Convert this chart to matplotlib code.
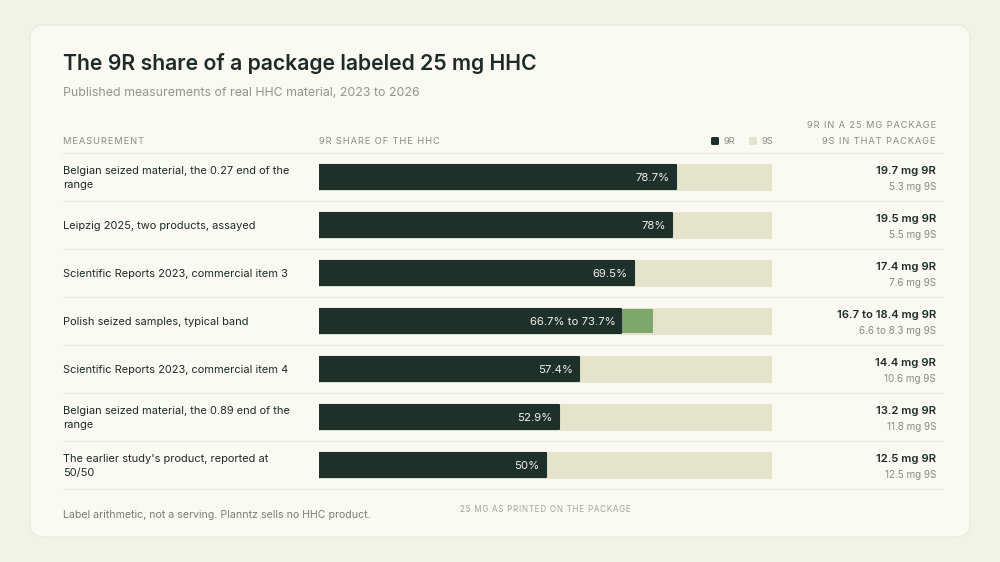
import matplotlib as mpl
mpl.use('Agg')

import matplotlib.pyplot as plt
import matplotlib.patches as patches
from matplotlib.transforms import blended_transform_factory

# data
labels = [
    "Belgian seized material, the 0.27 end of the\nrange",
    "Leipzig 2025, two products, assayed",
    "Scientific Reports 2023, commercial item 3",
    "Polish seized samples, typical band",
    "Scientific Reports 2023, commercial item 4",
    "Belgian seized material, the 0.89 end of the\nrange",
    "The earlier study's product, reported at\n50/50",
]
share_low = [78.7, 78.0, 69.5, 66.7, 57.4, 52.9, 50.0]
share_high = [78.7, 78.0, 69.5, 73.7, 57.4, 52.9, 50.0]
bar_text = ["78.7%", "78%", "69.5%", "66.7% to 73.7%", "57.4%", "52.9%", "50%"]
mg_9r = ["19.7 mg 9R", "19.5 mg 9R", "17.4 mg 9R", "16.7 to 18.4 mg 9R",
         "14.4 mg 9R", "13.2 mg 9R", "12.5 mg 9R"]
mg_9s = ["5.3 mg 9S", "5.5 mg 9S", "7.6 mg 9S", "6.6 to 8.3 mg 9S",
         "10.6 mg 9S", "11.8 mg 9S", "12.5 mg 9S"]

PAGE = '#f3f2e7'
CARD = '#fafaf3'
DARK = '#1e302b'
LIGHT = '#e5e3cc'
GREEN = '#7ea86b'
INK = '#1f2b28'
GREY = '#8b8b82'
RULE = '#ebeadf'

FONT = ['Inter', 'DejaVu Sans']
plt.rcParams['font.family'] = FONT


def tracked(s):
    # fake letter spacing with hair spaces
    return '\u200a'.join(s)


fig = plt.figure(figsize=(10, 5.62), dpi=100, facecolor=PAGE)

# overlay axes in pixel coordinates
ax0 = fig.add_axes([0, 0, 1, 1])
ax0.set_xlim(0, 1000)
ax0.set_ylim(562, 0)
ax0.set_axis_off()

ax0.add_patch(patches.FancyBboxPatch((30, 25), 940, 512,
                                     boxstyle='round,pad=0,rounding_size=14',
                                     facecolor=CARD, edgecolor='#ecebdd', lw=1))

ax0.text(63, 64, "The 9R share of a package labeled 25 mg HHC", fontsize=15.3,
         fontweight='semibold', color=INK, va='center')
ax0.text(63, 93, "Published measurements of real HHC material, 2023 to 2026",
         fontsize=8.9, color='#95958c', va='center')

hdr = dict(fontsize=6.7, color=GREY, va='center', family=FONT)
ax0.text(63, 141, tracked("MEASUREMENT"), **hdr)
ax0.text(319, 141, tracked("9R SHARE OF THE HHC"), **hdr)
ax0.text(936, 125, tracked("9R IN A 25 MG PACKAGE"), ha='right', **hdr)
ax0.text(936, 141, tracked("9S IN THAT PACKAGE"), ha='right', **hdr)

# legend
ax0.add_patch(patches.FancyBboxPatch((711, 137), 8, 8, boxstyle='round,pad=0,rounding_size=1.5',
                                     facecolor=DARK, edgecolor='none'))
ax0.text(723, 141, "9R", **hdr)
ax0.add_patch(patches.FancyBboxPatch((749, 137), 8, 8, boxstyle='round,pad=0,rounding_size=1.5',
                                     facecolor=LIGHT, edgecolor='none'))
ax0.text(761, 141, "9S", **hdr)

ax0.plot([63, 943], [153, 153], color=RULE, lw=1)

ax0.text(63, 515, "Label arithmetic, not a serving. Planntz sells no HHC product.",
         fontsize=7.6, color='#7d7d75', va='center')

# bar axes: x in percent, y in rows
ax = fig.add_axes([319 / 1000, 1 - 489 / 562, 453 / 1000, 336 / 562])
ax.set_xlim(0, 100)
ax.set_ylim(len(labels) - 0.5, -0.5)
ax.set_axis_off()
ax.patch.set_alpha(0)

rows = list(range(len(labels)))
ax.barh(rows, [100] * len(rows), height=0.48, color=LIGHT, edgecolor=LIGHT,
        lw=2, joinstyle='round')
ax.barh(rows, share_high, height=0.48, color=GREEN, edgecolor='none')
ax.barh(rows, share_low, height=0.48, color=DARK, edgecolor=DARK,
        lw=1.5, joinstyle='round')
for i in rows:
    ax.text(share_low[i] - 1.3, i + 0.02, bar_text[i], ha='right', va='center',
            fontsize=8.2, color='#f1f0e6')

ax.text(50, len(labels) - 0.5 + 0.42, tracked("25 MG AS PRINTED ON THE PACKAGE"),
        ha='center', va='center', fontsize=5.8, color='#a3a39a', clip_on=False)

tr = blended_transform_factory(ax0.transData, ax.transData)
for i in rows:
    ax.text(63, i + 0.03, labels[i], transform=tr, ha='left', va='center',
            fontsize=7.95, color=INK, linespacing=1.5, clip_on=False)
    ax.text(936, i - 0.13, mg_9r[i], transform=tr, ha='right', va='center',
            fontsize=8.1, fontweight='semibold', color=INK, clip_on=False)
    ax.text(936, i + 0.2, mg_9s[i], transform=tr, ha='right', va='center',
            fontsize=7.1, color=GREY, clip_on=False)
    ax.plot([63, 943], [i + 0.5, i + 0.5], transform=tr, color=RULE, lw=0.9,
            clip_on=False)

fig.savefig('out.png', dpi=100, facecolor=PAGE)
